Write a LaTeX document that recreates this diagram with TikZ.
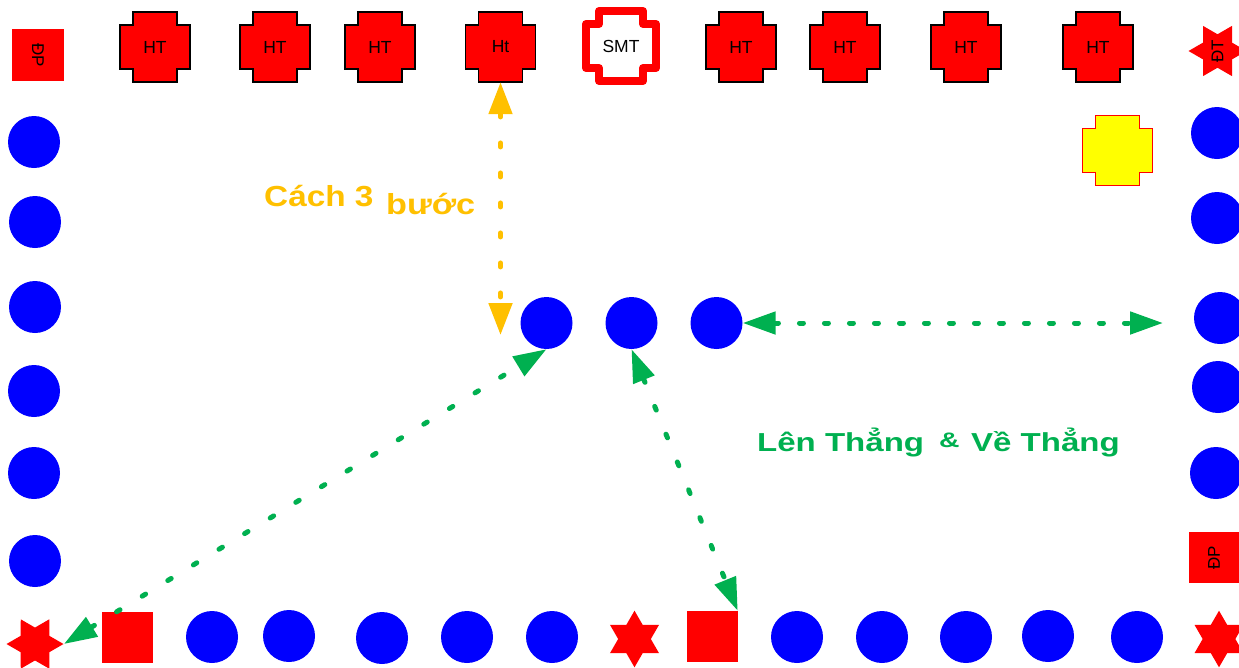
\documentclass[tikz,border=0pt]{standalone}
\usepackage{fontspec}
\setmainfont{Liberation Sans}
\usetikzlibrary{shapes.geometric,arrows.meta,calc}
\definecolor{myred}{HTML}{FF0000}
\definecolor{myblue}{HTML}{0000FF}
\definecolor{myorange}{HTML}{FFC000}
\definecolor{mygreen}{HTML}{00B050}
\definecolor{myyellow}{HTML}{FFFF00}
\newcommand{\crosspath}[2]{%
  \path[#1, shift={#2}] (-35,-22) -- (-22,-22) -- (-22,-35) -- (22,-35) -- (22,-22) -- (35,-22)
    -- (35,22) -- (22,22) -- (22,35) -- (-22,35) -- (-22,22) -- (-35,22) -- cycle;}
\tikzset{
  dot/.style={circle, fill=myblue, minimum size=52pt, inner sep=0pt},
  htbox/.style={fill=myred, draw=black, line width=1.3pt, line join=miter},
  smtbox/.style={fill=white, draw=myred, line width=8pt, line join=round},
  yellowbox/.style={fill=myyellow, draw=myred, line width=0.8pt},
  htlabel/.style={minimum width=70pt, minimum height=70pt, inner sep=0pt, font=\fontsize{17.5}{20}\selectfont},
  redsq/.style={fill=myred, inner sep=0pt, minimum size=#1},
  hexstar/.style={star, star points=6, star point ratio=1.732, fill=myred, inner sep=0pt, minimum size=#1},
  smalltext/.style={font=\fontsize{17}{19}\selectfont, inner sep=0pt},
  garrow/.style={draw=mygreen, line width=5pt, line cap=round, dash pattern=on 4pt off #1,
    {Triangle[length=33pt,width=22pt]}-{Triangle[length=33pt,width=22pt]}},
  oarrow/.style={draw=myorange, line width=5pt, line cap=round, dash pattern=on 4pt off 26pt,
    {Triangle[length=32pt,width=23pt]}-{Triangle[length=32pt,width=23pt]}},
  otext/.style={text=myorange, inner sep=0pt, anchor=base west, font=\fontsize{29}{33}\selectfont\bfseries},
  gtext/.style={text=mygreen, inner sep=0pt, anchor=base west, font=\fontsize{26}{30}\selectfont\bfseries},
}
\begin{document}
\begin{tikzpicture}[x=1pt,y=-1pt]
\fill[white] (0,0) rectangle (1239,667);
\useasboundingbox (0,0) rectangle (1239,667);

% top row cross boxes
\foreach \n/\xx/\t in {ht1/155/HT, ht2/275/HT, ht3/380/HT, ht4/500.5/Ht, ht5/741/HT, ht6/845/HT, ht7/966/HT, ht8/1098/HT}{
  \crosspath{htbox}{(\xx,47)}
  \node[htlabel] (\n) at (\xx,47) {\t};
}
\crosspath{smtbox}{(621,46)}
\node[htlabel] (smt) at (621,46) {SMT};
\crosspath{yellowbox}{(1117,150)}
\node[htlabel] (yel) at (1117,150) {};

% corner markers
\node[redsq=52pt] (dpTL) at (38,55) {};
\node[smalltext, rotate=-90] (dpTLt) at (dpTL) {ĐP};
\node[redsq=51pt] (dpBR) at (1214,557.5) {};
\node[smalltext, rotate=90] (dpBRt) at (dpBR) {ĐP};
\node[hexstar=58pt, rotate=90] (dtTR) at (1217.5,51) {};
\node[smalltext, rotate=90] (dtTRt) at (dtTR) {ĐT};

% bottom row stars and squares
\node[hexstar=57pt, shape border rotate=30] (sBL) at (35,644) {};
\node[hexstar=56.6pt] (sBM) at (634.5,639) {};
\node[hexstar=56.6pt] (sBR) at (1219,639) {};
\node[redsq=51pt] (sq1) at (127.5,637) {};
\node[redsq=51pt] (sq2) at (712,636.5) {};

% blue dots
\foreach \n/\xx/\yy in {L1/34/142, L2/35/222, L3/35/307, L4/34/391, L5/34/473, L6/35/561,
  R1/1217/133, R2/1217/218, R3/1220/318, R4/1218/387, R5/1216/473,
  B1/212/637, B2/289/636, B3/382/638, B4/467/637, B5/552/637, B6/797/637, B7/882/637,
  B8/966/637, B9/1048/636, B10/1137/637,
  M1/546.5/323, M2/631.5/323, M3/716.5/323}{
  \node[dot] (\n) at (\xx,\yy) {};
}

% connectors
\coordinate (oEnd) at (500.5,335);
\coordinate (gEnd) at (1163,323);
\draw[oarrow] (ht4.south) -- (oEnd);
\draw[garrow=21pt] (M3.east) -- (gEnd);
\draw[garrow=26pt] (sBL.east) -- (M1.south);
\draw[garrow=26pt] (M2.south) -- (sq2.north east);

% texts
\node[otext] (t1) at (264,206) {\scalebox{1.15}[1]{Cách 3}};
\node[otext] (t2) at (386,214) {\scalebox{1.18}[1]{bước}};
\node[gtext] (t3) at (757,451) {\scalebox{1.27}[1]{Lên Thẳng}};
\node[gtext, font=\fontsize{21}{24}\selectfont\bfseries] (t4) at (939,447) {\scalebox{1.35}[1]{\&}};
\node[gtext] (t5) at (971,451) {\scalebox{1.27}[1]{Về Thẳng}};
\end{tikzpicture}
\end{document}
